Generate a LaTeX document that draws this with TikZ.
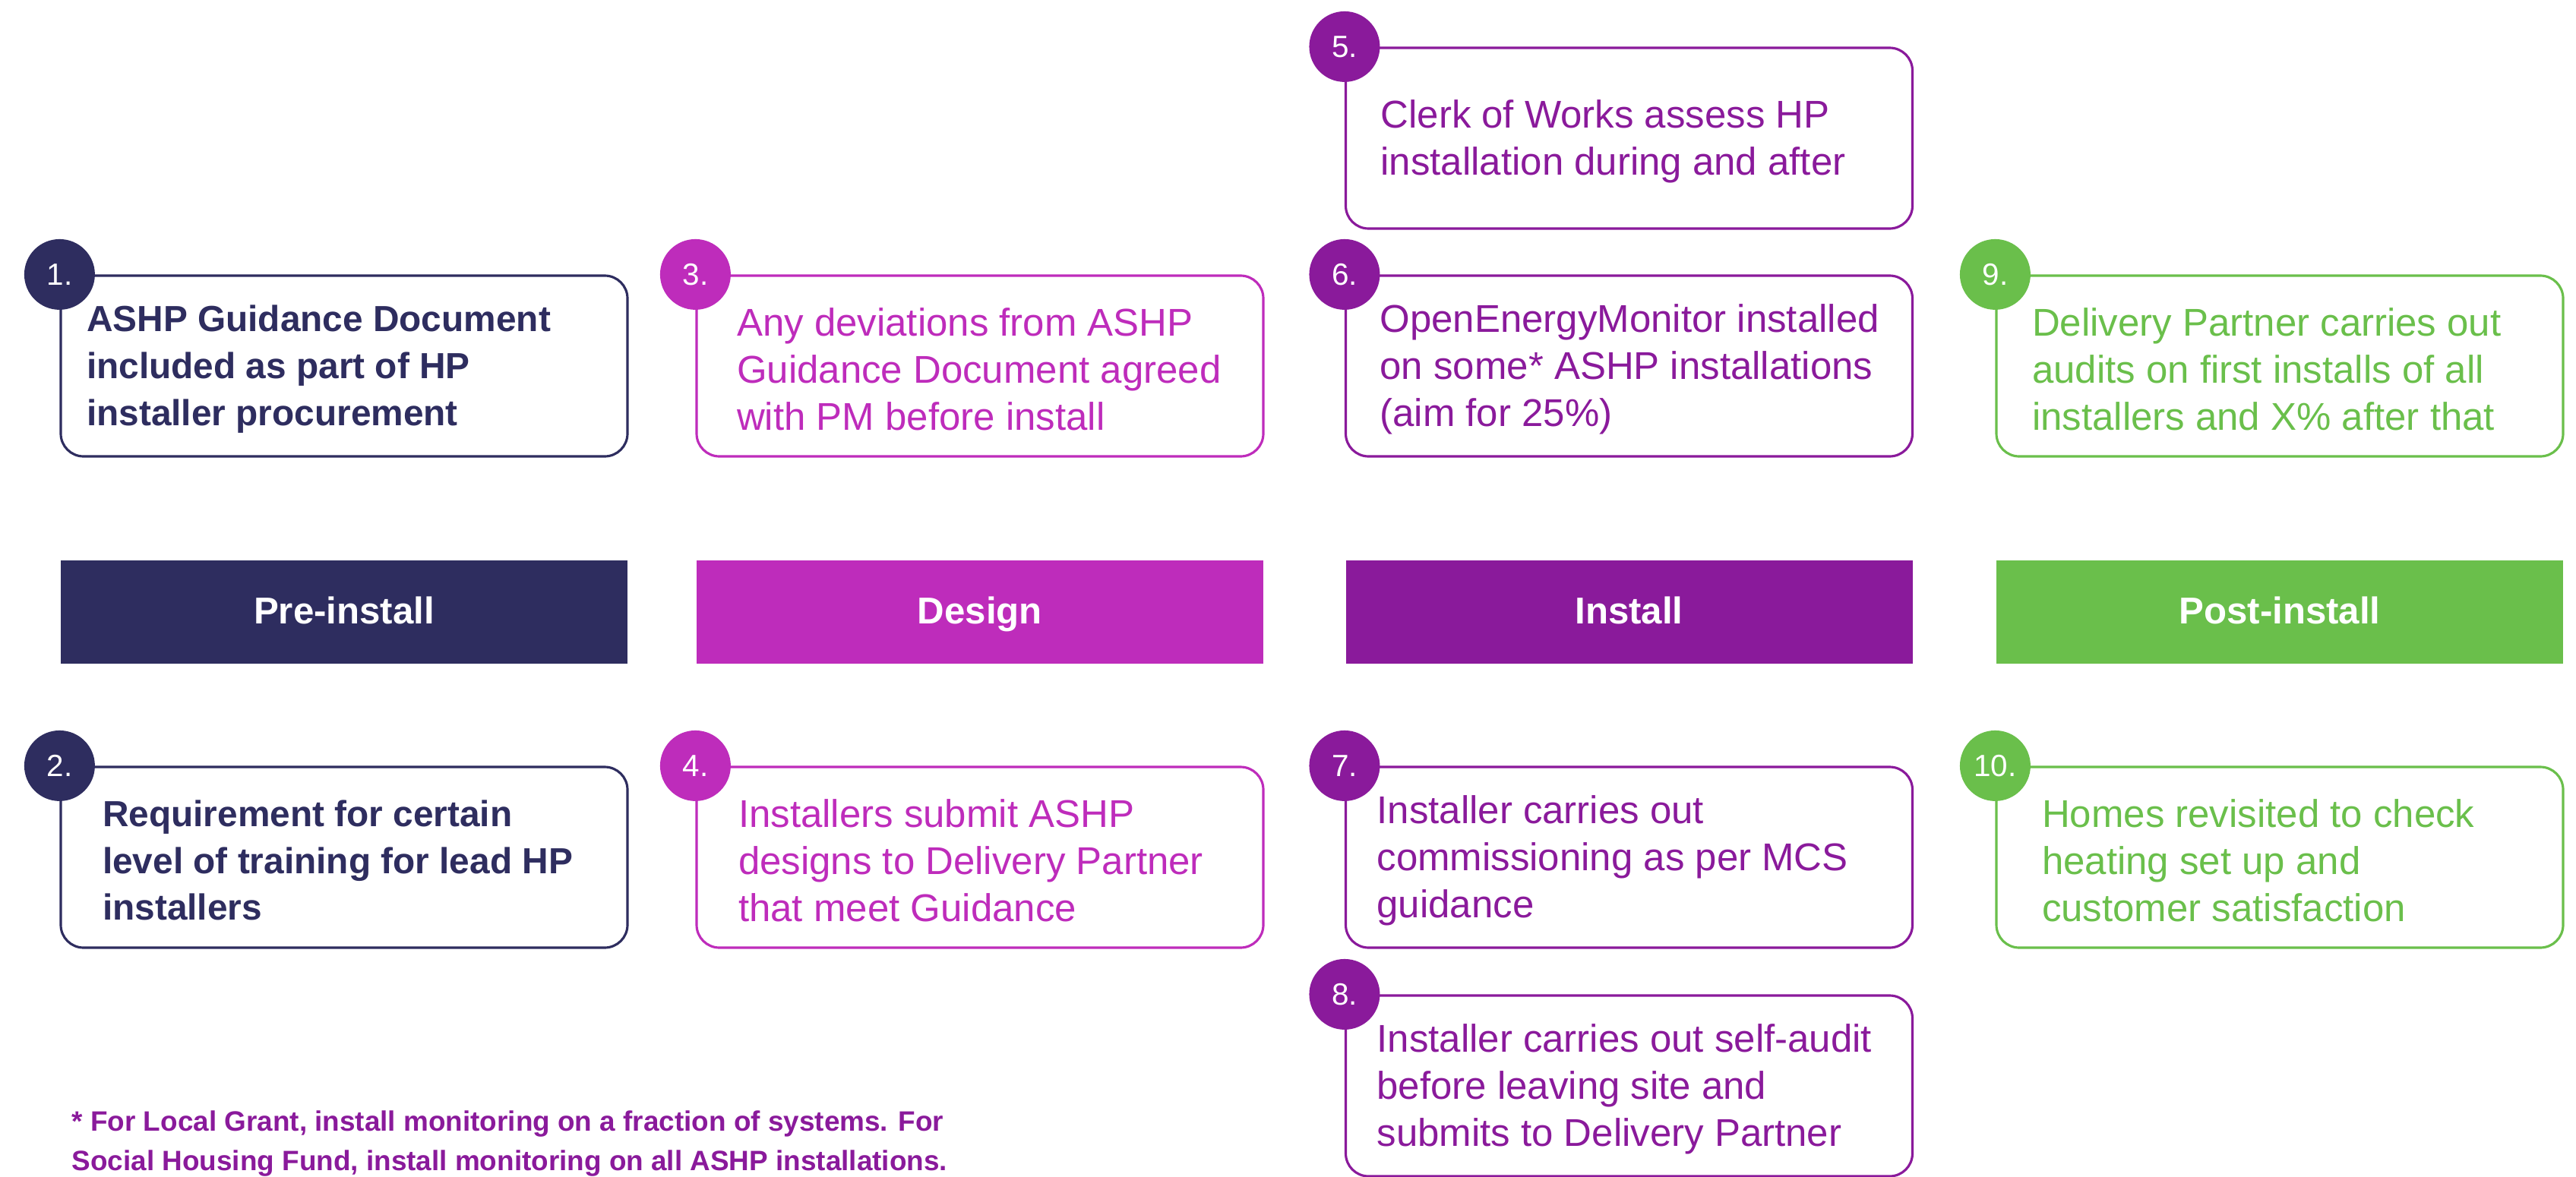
\documentclass[tikz,border=0pt]{standalone}
\usepackage{fontspec}
\setmainfont{Liberation Sans}
\usepackage{xcolor}
\usepackage{tikz}
\usetikzlibrary{positioning, calc}

\definecolor{preblue}{HTML}{2E2D5F}
\definecolor{designpink}{HTML}{BE2CBB}
\definecolor{installpurple}{HTML}{8A1A9B}
\definecolor{postgreen}{HTML}{6ABF4B}

\begin{document}
\begin{tikzpicture}[
  x=1cm, y=-1cm,
  stepbox/.style={draw, line width=0.9pt, rounded corners=0.3cm,
    minimum width=7.46cm, minimum height=2.38cm, inner sep=0pt},
  steptext/.style={align=left, inner sep=0pt, yshift=-0.04cm,
    font=\fontsize{14.5}{17.6}\selectfont},
  keytext/.style={align=left, inner sep=0pt, yshift=-0.04cm,
    font=\fontsize{13.6}{17.6}\selectfont\bfseries},
  numdot/.style={circle, minimum size=0.93cm, inner sep=0pt, text=white,
    font=\fontsize{11.5}{11.5}\selectfont},
  phasebar/.style={minimum width=7.46cm, minimum height=1.36cm, inner sep=0pt,
    text height=10.2pt, text depth=1.5pt,
    text=white, font=\fontsize{14}{14}\selectfont\bfseries},
]
  \useasboundingbox (0,0) rectangle (33.91,15.50);

  % ── Phase bars ──
  \node[phasebar, fill=preblue]       (pre)     at (4.53,8.06)   {Pre-install};
  \node[phasebar, fill=designpink]    (design)  at (12.90,8.06)  {Design};
  \node[phasebar, fill=installpurple] (install) at (21.445,8.06) {Install};
  \node[phasebar, fill=postgreen]     (post)    at (30.01,8.06)  {Post-install};

  % ── Pre-install ──
  \node[stepbox, draw=preblue] (box1) at (4.53,4.82) {};
  \node[keytext, text=preblue, right=0.35cm of box1.west] (txt1)
    {ASHP Guidance Document\\included as part of HP\\installer procurement};
  \node[numdot, fill=preblue] (num1) at (box1.north west) {1.};

  \node[stepbox, draw=preblue] (box2) at (4.53,11.29) {};
  \node[keytext, text=preblue, right=0.56cm of box2.west] (txt2)
    {Requirement for certain\\level of training for lead HP\\installers};
  \node[numdot, fill=preblue] (num2) at (box2.north west) {2.};

  % ── Design ──
  \node[stepbox, draw=designpink] (box3) at (12.90,4.82) {};
  \node[steptext, text=designpink, right=0.54cm of box3.west] (txt3)
    {Any deviations from ASHP\\Guidance Document agreed\\with PM before install};
  \node[numdot, fill=designpink] (num3) at (box3.north west) {3.};

  \node[stepbox, draw=designpink] (box4) at (12.90,11.29) {};
  \node[steptext, text=designpink, right=0.56cm of box4.west] (txt4)
    {Installers submit ASHP\\designs to Delivery Partner\\that meet Guidance};
  \node[numdot, fill=designpink] (num4) at (box4.north west) {4.};

  % ── Install ──
  \node[stepbox, draw=installpurple] (box5) at (21.445,1.82) {};
  \node[steptext, text=installpurple, right=0.47cm of box5.west] (txt5)
    {Clerk of Works assess HP\\installation during and after};
  \node[numdot, fill=installpurple] (num5) at (box5.north west) {5.};

  \node[stepbox, draw=installpurple] (box6) at (21.445,4.82) {};
  \node[steptext, text=installpurple, right=0.46cm of box6.west] (txt6)
    {OpenEnergyMonitor installed\\on some* ASHP installations\\(aim for 25\%)};
  \node[numdot, fill=installpurple] (num6) at (box6.north west) {6.};

  \node[stepbox, draw=installpurple] (box7) at (21.445,11.29) {};
  \node[steptext, text=installpurple, right=0.42cm of box7.west] (txt7)
    {Installer carries out\\commissioning as per MCS\\guidance};
  \node[numdot, fill=installpurple] (num7) at (box7.north west) {7.};

  \node[stepbox, draw=installpurple] (box8) at (21.445,14.30) {};
  \node[steptext, text=installpurple, right=0.42cm of box8.west] (txt8)
    {Installer carries out self-audit\\before leaving site and\\submits to Delivery Partner};
  \node[numdot, fill=installpurple] (num8) at (box8.north west) {8.};

  % ── Post-install ──
  \node[stepbox, draw=postgreen] (box9) at (30.01,4.82) {};
  \node[steptext, text=postgreen, right=0.48cm of box9.west] (txt9)
    {Delivery Partner carries out\\audits on first installs of all\\installers and X\% after that};
  \node[numdot, fill=postgreen] (num9) at (box9.north west) {9.};

  \node[stepbox, draw=postgreen] (box10) at (30.01,11.29) {};
  \node[steptext, text=postgreen, right=0.61cm of box10.west] (txt10)
    {Homes revisited to check\\heating set up and\\customer satisfaction};
  \node[numdot, fill=postgreen] (num10) at (box10.north west) {10.};

  % ── Footnote ──
  \node[anchor=north west, align=left, inner sep=0pt, text=installpurple,
        font=\fontsize{10.5}{14.8}\selectfont\bfseries] (note) at (0.94,14.62)
    {* For Local Grant, install monitoring on a fraction of systems. For\\
     Social Housing Fund, install monitoring on all ASHP installations.};

\end{tikzpicture}
\end{document}
